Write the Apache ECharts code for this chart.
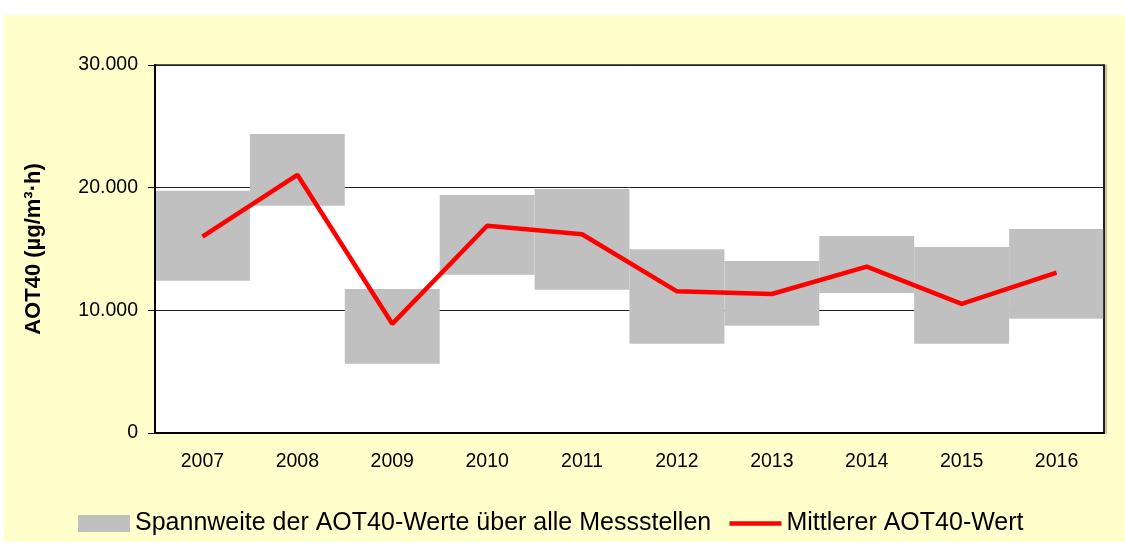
<!DOCTYPE html>
<html>
<head>
<meta charset="utf-8">
<script src="https://cdn.jsdelivr.net/npm/echarts@6/dist/echarts.min.js"></script>
<style>
  body { margin: 0; background: #fff; }
  #chart { position: absolute; left: 4px; top: 15px; width: 1121px; height: 527px; background: #ffffcc; }
</style>
</head>
<body>
<div id="chart"></div>
<script>
  // Jahre und Werte (AOT40 in µg/m³·h)
  const years = ['2007', '2008', '2009', '2010', '2011', '2012', '2013', '2014', '2015', '2016'];
  const rangeLow = [12420, 18530, 5650, 12900, 11680, 7280, 8750, 11410, 7280, 9320];
  const rangeHigh = [19750, 24370, 11740, 19400, 19900, 14970, 14020, 16060, 15160, 16630];
  const meanValues = [16000, 21050, 8900, 16900, 16200, 11550, 11330, 13560, 10520, 13070];

  const rangeName = 'Spannweite der AOT40-Werte über alle Messstellen';
  const meanName = 'Mittlerer AOT40-Wert';

  const fontFamily = 'Liberation Sans, Arial, sans-serif';

  function fmt(v) {
    if (v === 0) return '0';
    return (v / 1000) + '.000';
  }

  let chart = echarts.init(document.getElementById('chart'));
  chart.setOption({
    animation: false,
    textStyle: {fontFamily: fontFamily},
    grid: {
      left: 151,
      top: 50,
      width: 949,
      height: 368,
      show: true,
      backgroundColor: '#fff',
      borderColor: '#222',
      borderWidth: 1.5
    },
    legend: {
      left: 69,
      top: 491,
      itemWidth: 52,
      itemHeight: 17,
      itemGap: 16,
      textStyle: {fontSize: 25, color: '#000', fontFamily: fontFamily},
      data: [
        {name: rangeName, icon: 'rect'},
        {name: meanName, itemStyle: {opacity: 0}, lineStyle: {color: '#ff0000', width: 4.5}}
      ]
    },
    xAxis: {
      type: 'category',
      data: years,
      boundaryGap: true,
      z: 10,
      axisLine: {lineStyle: {color: '#000', width: 2}},
      axisTick: {show: false},
      axisLabel: {fontSize: 19.5, color: '#000', margin: 19}
    },
    yAxis: [
      {
        type: 'value',
        min: 0,
        max: 30000,
        interval: 10000,
        name: 'AOT40 (µg/m³·h)',
        nameLocation: 'middle',
        nameGap: 110,
        nameTextStyle: {fontSize: 22, fontWeight: 'bold', color: '#000'},
        axisLine: {show: false},
        axisTick: {show: true, inside: false, length: 7, lineStyle: {color: '#000', width: 1}},
        axisLabel: {fontSize: 19.5, color: '#000', margin: 17, formatter: fmt},
        splitLine: {lineStyle: {color: '#222', width: 1}}
      },
      {
        type: 'value',
        position: 'left',
        offset: 0,
        min: 0,
        max: 30000,
        z: 10,
        axisLine: {show: true, lineStyle: {color: '#000', width: 2}},
        axisTick: {show: false},
        axisLabel: {show: false},
        splitLine: {show: false}
      },
      {
        type: 'value',
        position: 'right',
        offset: 0,
        min: 0,
        max: 30000,
        z: 10,
        axisLine: {show: true, lineStyle: {color: '#111', width: 1.5, shadowColor: 'rgba(0,0,0,0.35)', shadowOffsetX: 2, shadowBlur: 1}},
        axisTick: {show: false},
        axisLabel: {show: false},
        splitLine: {show: false}
      }
    ],
    series: [
      {
        name: 'base',
        type: 'bar',
        stack: 'range',
        barWidth: '100%',
        barCategoryGap: '0%',
        itemStyle: {color: 'transparent'},
        data: rangeLow,
        silent: true
      },
      {
        name: rangeName,
        type: 'bar',
        stack: 'range',
        barWidth: '100%',
        barCategoryGap: '0%',
        itemStyle: {color: '#c0c0c0'},
        data: rangeHigh.map((h, i) => h - rangeLow[i])
      },
      {
        name: meanName,
        type: 'line',
        data: meanValues,
        symbol: 'none',
        z: 5,
        itemStyle: {color: '#ff0000'},
        lineStyle: {color: '#ff0000', width: 4.5}
      }
    ]
  });
</script>
</body>
</html>
